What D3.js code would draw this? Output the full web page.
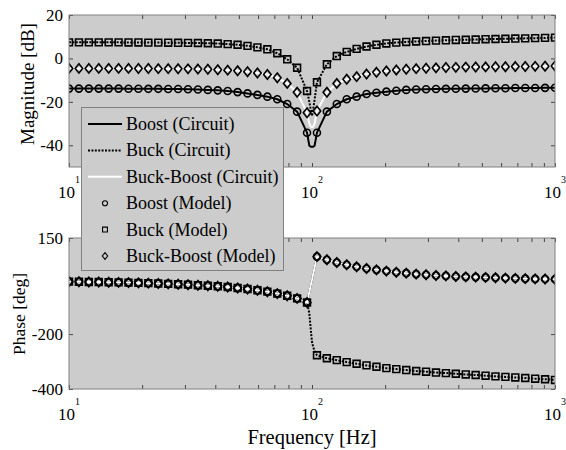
<!DOCTYPE html>
<html>
<head>
<meta charset="utf-8">
<script src="https://cdn.jsdelivr.net/npm/d3@7"></script>
<style>
  body { margin: 0; background: #fff; }
  svg text { font-family: "Liberation Serif", "Times New Roman", serif; fill: #000; }
</style>
</head>
<body>
<svg id="chart" width="566" height="450"></svg>
<script>
// Model sample frequencies (Hz)
const freq = [10, 10.985, 12.068, 13.257, 14.563, 15.998, 17.575, 19.307, 21.210, 23.300,
  25.595, 28.118, 30.888, 33.932, 37.276, 40.949, 44.984, 49.417, 54.287, 59.636,
  65.513, 71.969, 79.060, 86.851, 95.410, 104.81, 115.14, 126.49, 138.95, 152.64,
  167.68, 184.21, 202.35, 222.29, 244.20, 268.27, 294.71, 323.75, 355.65, 390.70,
  429.20, 471.49, 517.95, 568.99, 625.06, 686.65, 754.31, 828.64, 910.30, 1000];

// Circuit sample frequencies: same grid plus a few points around the notch
const freqCircuit = [10, 10.985, 12.068, 13.257, 14.563, 15.998, 17.575, 19.307, 21.210, 23.300,
  25.595, 28.118, 30.888, 33.932, 37.276, 40.949, 44.984, 49.417, 54.287, 59.636,
  65.513, 71.969, 79.060, 86.851, 95.410, 97.5, 99, 100, 101, 102.5, 104.81, 115.14, 126.49, 138.95, 152.64,
  167.68, 184.21, 202.35, 222.29, 244.20, 268.27, 294.71, 323.75, 355.65, 390.70,
  429.20, 471.49, 517.95, 568.99, 625.06, 686.65, 754.31, 828.64, 910.30, 1000];

// Magnitude [dB], model
const magBoostModel = [-13.9, -13.9, -13.9, -13.9, -13.9, -13.9, -13.95, -13.95, -14.0, -14.0,
  -14.05, -14.1, -14.2, -14.3, -14.5, -14.7, -15.0, -15.5, -16.1, -16.8,
  -17.6, -18.8, -21.0, -24.5, -34.2, -34.2, -24.5, -21.0, -18.8, -17.6,
  -16.4, -15.8, -15.3, -14.9, -14.5, -14.3, -14.2, -14.1, -14.0, -13.95,
  -13.9, -13.85, -13.8, -13.75, -13.7, -13.65, -13.6, -13.6, -13.55, -13.5];
const magBuckModel = [7.4, 7.4, 7.4, 7.4, 7.4, 7.4, 7.35, 7.35, 7.3, 7.3,
  7.25, 7.2, 7.15, 7.1, 7.0, 6.85, 6.6, 6.3, 5.8, 5.1,
  4.2, 2.4, -0.4, -4.3, -15.0, -11.0, -2.7, 1.1, 3.0, 4.4,
  5.5, 6.3, 6.9, 7.3, 7.6, 7.8, 8.0, 8.2, 8.35, 8.5,
  8.6, 8.7, 8.85, 8.95, 9.05, 9.15, 9.25, 9.35, 9.45, 9.6];
const magBuckBoostModel = [-4.6, -4.6, -4.6, -4.6, -4.6, -4.6, -4.6, -4.65, -4.65, -4.7,
  -4.7, -4.75, -4.8, -4.9, -5.0, -5.2, -5.4, -5.7, -6.1, -6.7,
  -7.4, -8.9, -11.5, -15.6, -25.0, -24.2, -15.6, -11.5, -9.6, -8.4,
  -7.2, -6.4, -5.8, -5.3, -5.0, -4.7, -4.5, -4.35, -4.2, -4.1,
  -4.0, -3.95, -3.9, -3.85, -3.8, -3.75, -3.7, -3.65, -3.6, -3.5];

// Magnitude [dB], circuit
const magBoostCircuit = [-13.9, -13.9, -13.9, -13.9, -13.9, -13.9, -13.95, -13.95, -14.0, -14.0,
  -14.05, -14.1, -14.2, -14.3, -14.5, -14.7, -15.0, -15.5, -16.1, -16.8,
  -17.6, -18.8, -21.0, -24.5, -34.2, -40.2, -40.7, -40.7, -40.7, -40.2, -34.2, -24.5, -21.0, -18.8, -17.6,
  -16.4, -15.8, -15.3, -14.9, -14.5, -14.3, -14.2, -14.1, -14.0, -13.95,
  -13.9, -13.85, -13.8, -13.75, -13.7, -13.65, -13.6, -13.6, -13.55, -13.5];
const magBuckCircuit = [7.4, 7.4, 7.4, 7.4, 7.4, 7.4, 7.35, 7.35, 7.3, 7.3,
  7.25, 7.2, 7.15, 7.1, 7.0, 6.85, 6.6, 6.3, 5.8, 5.1,
  4.2, 2.4, -0.4, -4.3, -15.0, -20.0, -24.0, -26.5, -24.0, -19.0, -11.0, -2.7, 1.1, 3.0, 4.4,
  5.5, 6.3, 6.9, 7.3, 7.6, 7.8, 8.0, 8.2, 8.35, 8.5,
  8.6, 8.7, 8.85, 8.95, 9.05, 9.15, 9.25, 9.35, 9.45, 9.6];
const magBuckBoostCircuit = [-4.6, -4.6, -4.6, -4.6, -4.6, -4.6, -4.6, -4.65, -4.65, -4.7,
  -4.7, -4.75, -4.8, -4.9, -5.0, -5.2, -5.4, -5.7, -6.1, -6.7,
  -7.4, -8.9, -11.5, -15.6, -25.0, -30.0, -31.5, -31.7, -31.5, -30.0, -24.2, -15.6, -11.5, -9.6, -8.4,
  -7.2, -6.4, -5.8, -5.3, -5.0, -4.7, -4.5, -4.35, -4.2, -4.1,
  -4.0, -3.95, -3.9, -3.85, -3.8, -3.75, -3.7, -3.65, -3.6, -3.5];

// Phase [deg], model
const phaseBoostModel = [-9, -9.5, -10, -10.5, -11, -11.5, -12.5, -13.5, -14.5, -15.5,
  -17, -18.5, -20, -22, -24, -26, -28.5, -32, -36, -40.5,
  -45.5, -52.5, -60.5, -70, -85, 82, 71, 61, 52.5, 45,
  39, 34, 29.5, 25.5, 22, 18.5, 16, 13.5, 12, 10,
  8.5, 7.5, 6.5, 5.5, 4, 3, 2, 1, 0.5, 0];
const phaseBuckModel = [-9, -9.5, -10, -10.5, -11, -11.5, -12.5, -13.5, -14.5, -15.5,
  -17, -18.5, -20, -22, -24, -26, -28.5, -32, -36, -40.5,
  -45.5, -52.5, -60.5, -70, -85, -277, -288, -295, -302, -308,
  -314, -319, -324, -327.5, -331, -334.5, -337, -340, -342, -344.5,
  -347, -349, -351.5, -354, -356, -358, -360, -362.5, -364.5, -367];
const phaseBuckBoostModel = [-9, -9.5, -10, -10.5, -11, -11.5, -12.5, -13.5, -14.5, -15.5,
  -17, -18.5, -20, -22, -24, -26, -28.5, -32, -36, -40.5,
  -45.5, -52.5, -60.5, -70, -85, 82, 71, 61, 52.5, 45,
  39, 34, 29.5, 25.5, 22, 18.5, 16, 13.5, 12, 10,
  8.5, 7.5, 6.5, 5.5, 4, 3, 2, 1, 0.5, 0];

// Phase [deg], circuit
const phaseBoostCircuit = [-9, -9.5, -10, -10.5, -11, -11.5, -12.5, -13.5, -14.5, -15.5,
  -17, -18.5, -20, -22, -24, -26, -28.5, -32, -36, -40.5,
  -45.5, -52.5, -60.5, -70, -85, -47, -18, -2, 17, 42, 82, 71, 61, 52.5, 45,
  39, 34, 29.5, 25.5, 22, 18.5, 16, 13.5, 12, 10,
  8.5, 7.5, 6.5, 5.5, 4, 3, 2, 1, 0.5, 0];
const phaseBuckCircuit = [-9, -9.5, -10, -10.5, -11, -11.5, -12.5, -13.5, -14.5, -15.5,
  -17, -18.5, -20, -22, -24, -26, -28.5, -32, -36, -40.5,
  -45.5, -52.5, -60.5, -70, -85, -125, -190, -228, -245, -262, -277, -288, -295, -302, -308,
  -314, -319, -324, -327.5, -331, -334.5, -337, -340, -342, -344.5,
  -347, -349, -351.5, -354, -356, -358, -360, -362.5, -364.5, -367];
const phaseBuckBoostCircuit = [-9, -9.5, -10, -10.5, -11, -11.5, -12.5, -13.5, -14.5, -15.5,
  -17, -18.5, -20, -22, -24, -26, -28.5, -32, -36, -40.5,
  -45.5, -52.5, -60.5, -70, -85, -47, -18, -2, 17, 42, 82, 71, 61, 52.5, 45,
  39, 34, 29.5, 25.5, 22, 18.5, 16, 13.5, 12, 10,
  8.5, 7.5, 6.5, 5.5, 4, 3, 2, 1, 0.5, 0];

const xMajorTicks = [10, 100, 1000];
const xMinorTicks = [20, 30, 40, 50, 60, 70, 80, 90, 200, 300, 400, 500, 600, 700, 800, 900];
const magTicks = [-40, -20, 0, 20];
const phaseTicks = [-400, -200, 150];
const legendLabels = ["Boost (Circuit)", "Buck (Circuit)", "Buck-Boost (Circuit)",
  "Boost (Model)", "Buck (Model)", "Buck-Boost (Model)"];

const svg = d3.select("#chart");
const bg = "#cccccc", frameColor = "#808080";

const x = d3.scaleLog().domain([10, 1000]).range([69, 555]);
const yMag = d3.scaleLinear().domain([-50, 20]).range([167, 15]);
const yPh = d3.scaleLinear().domain([-400, 150]).range([389, 238]);

// marker shapes, drawn as paths centered on 0,0
function markerPath(type, s) {
  if (type === "circle") return `M${s},0A${s},${s} 0 1,1 ${-s},0A${s},${s} 0 1,1 ${s},0Z`;
  if (type === "square") return `M${-s},${-s}H${s}V${s}H${-s}Z`;
  const w = s * 1.05, h = s * 1.3;
  return `M0,${-h}L${w},0L0,${h}L${-w},0Z`;
}

const lineStyles = [
  { stroke: "#000", dash: null },
  { stroke: "#000", dash: "2,1.4" },
  { stroke: "#fff", dash: null }
];
const markerTypes = ["circle", "square", "diamond"];
const markerSizes = { circle: 3.5, square: 3.4, diamond: 3.6 };

function drawPanel(y, yTicks, circuitSeries, modelSeries, id) {
  const [yb, yt] = y.range();
  const g = svg.append("g");

  g.append("rect")
    .attr("x", x.range()[0]).attr("y", yt)
    .attr("width", x.range()[1] - x.range()[0]).attr("height", yb - yt)
    .attr("fill", bg);

  g.append("clipPath").attr("id", id)
    .append("rect")
    .attr("x", x.range()[0]).attr("y", yt)
    .attr("width", x.range()[1] - x.range()[0]).attr("height", yb - yt);

  const plot = g.append("g").attr("clip-path", `url(#${id})`);

  circuitSeries.forEach((vals, i) => {
    const line = d3.line()
      .x((d, j) => x(freqCircuit[j]))
      .y(d => y(d));
    plot.append("path")
      .datum(vals)
      .attr("d", line)
      .attr("fill", "none")
      .attr("stroke", lineStyles[i].stroke)
      .attr("stroke-width", 2)
      .attr("stroke-dasharray", lineStyles[i].dash);
  });

  modelSeries.forEach((vals, i) => {
    const t = markerTypes[i];
    plot.selectAll(null)
      .data(vals)
      .join("path")
      .attr("transform", (d, j) => `translate(${x(freq[j])},${y(d)})`)
      .attr("d", markerPath(t, markerSizes[t]))
      .attr("fill", "none")
      .attr("stroke", "#000")
      .attr("stroke-width", 1.6);
  });

  // ticks on all four sides, pointing inward
  const allX = xMajorTicks.concat(xMinorTicks);
  const axes = [
    d3.axisBottom(x).tickValues(allX).tickSize(-4).tickFormat(""),
    d3.axisTop(x).tickValues(allX).tickSize(-4).tickFormat(""),
    d3.axisLeft(y).tickValues(yTicks).tickSize(-4).tickPadding(6).tickFormat(d => String(d)),
    d3.axisRight(y).tickValues(yTicks).tickSize(-4).tickFormat("")
  ];
  const pos = [`translate(0,${yb})`, `translate(0,${yt})`,
    `translate(${x.range()[0]},0)`, `translate(${x.range()[1]},0)`];
  axes.forEach((ax, i) => {
    const a = g.append("g").attr("transform", pos[i]).call(ax);
    a.select(".domain").remove();
    a.selectAll(".tick line").attr("stroke", "#444");
    a.selectAll("text")
      .attr("font-size", 17)
      .attr("fill", "#000");
  });

  g.append("rect")
    .attr("x", x.range()[0]).attr("y", yt)
    .attr("width", x.range()[1] - x.range()[0]).attr("height", yb - yt)
    .attr("fill", "none").attr("stroke", frameColor);

  // decade labels 10^n
  xMajorTicks.forEach(v => {
    const t = g.append("text")
      .attr("x", x(v)).attr("y", yb + 31)
      .attr("text-anchor", "middle")
      .attr("font-size", 17);
    t.append("tspan").text("10");
    t.append("tspan")
      .attr("font-size", 10)
      .attr("dy", -15)
      .text(String(Math.round(Math.log10(v))));
  });
}

drawPanel(yMag, magTicks,
  [magBoostCircuit, magBuckCircuit, magBuckBoostCircuit],
  [magBoostModel, magBuckModel, magBuckBoostModel], "clipMag");
drawPanel(yPh, phaseTicks,
  [phaseBoostCircuit, phaseBuckCircuit, phaseBuckBoostCircuit],
  [phaseBoostModel, phaseBuckModel, phaseBuckBoostModel], "clipPh");

// axis titles
svg.append("text")
  .attr("transform", "translate(34,84) rotate(-90)")
  .attr("text-anchor", "middle")
  .attr("font-size", 19)
  .text("Magnitude [dB]");
svg.append("text")
  .attr("transform", "translate(25,314) rotate(-90)")
  .attr("text-anchor", "middle")
  .attr("font-size", 17.5)
  .text("Phase [deg]");
svg.append("text")
  .attr("x", 312).attr("y", 444)
  .attr("text-anchor", "middle")
  .attr("font-size", 20.5)
  .text("Frequency [Hz]");

// legend
const lg = svg.append("g");
lg.append("rect")
  .attr("x", 81.5).attr("y", 107.5)
  .attr("width", 202).attr("height", 163)
  .attr("fill", bg).attr("stroke", frameColor);

legendLabels.forEach((label, i) => {
  const cy = 124 + i * 26.4;
  if (i < 3) {
    lg.append("line")
      .attr("x1", 88).attr("x2", 122)
      .attr("y1", cy).attr("y2", cy)
      .attr("stroke", lineStyles[i].stroke)
      .attr("stroke-width", 2)
      .attr("stroke-dasharray", lineStyles[i].dash);
  } else {
    const t = markerTypes[i - 3];
    lg.append("path")
      .attr("transform", `translate(105,${cy})`)
      .attr("d", markerPath(t, markerSizes[t] * 0.72))
      .attr("fill", "none")
      .attr("stroke", "#000")
      .attr("stroke-width", 1.1);
  }
  lg.append("text")
    .attr("x", 126).attr("y", cy)
    .attr("dominant-baseline", "central")
    .attr("font-size", 18)
    .text(label);
});
</script>
</body>
</html>
